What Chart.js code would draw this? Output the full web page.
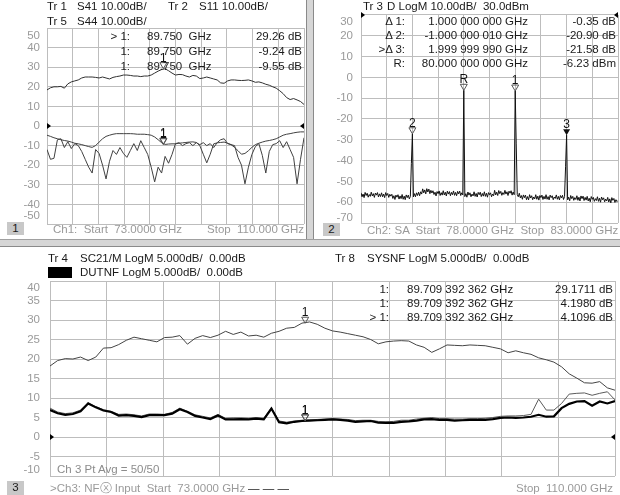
<!DOCTYPE html>
<html>
<head>
<meta charset="utf-8">
<script src="https://cdn.jsdelivr.net/npm/chart.js@4.4.1/dist/chart.umd.min.js"></script>
<style>
body { margin: 0; width: 620px; height: 495px; position: relative; overflow: hidden; background: #fff;
       font-family: "Liberation Sans", Arial, sans-serif; font-size: 11.5px; color: #1a1a1a; }
canvas { position: absolute; }
.t { position: absolute; white-space: pre; line-height: 14px; }
.g { color: #9a9a9a; }
.box { position: absolute; background: #c8c8c8; text-align: center; line-height: 13px; width: 17px; height: 13px; }
.vsep { position: absolute; left: 306px; top: 0; width: 6px; height: 239px; background: #d6d6d6;
        border-left: 1px solid #8a8a8a; border-right: 1px solid #8a8a8a; }
.hsep { position: absolute; left: 0; top: 239px; width: 620px; height: 6px; background: #d6d6d6;
        border-top: 1px solid #a0a0a0; border-bottom: 1px solid #8a8a8a; }
</style>
</head>
<body>
<canvas id="ch1" width="306" height="240" style="left:0;top:0"></canvas>
<canvas id="ch2" width="306" height="240" style="left:314px;top:0"></canvas>
<canvas id="ch3" width="620" height="247" style="left:0;top:248px"></canvas>
<div class="vsep"></div>
<div class="hsep"></div>

<!-- channel 1 texts -->
<div class="t" style="left:47px;top:-1px">Tr 1</div>
<div class="t" style="left:77px;top:-1px">S41 10.00dB/</div>
<div class="t" style="left:168px;top:-1px">Tr 2</div>
<div class="t" style="left:199px;top:-1px">S11 10.00dB/</div>
<div class="t" style="left:47px;top:14px">Tr 5</div>
<div class="t" style="left:77px;top:14px">S44 10.00dB/</div>
<div class="t" style="right:490px;top:29px">&gt; 1:</div>
<div class="t" style="left:147px;top:29px">89.750  GHz</div>
<div class="t" style="right:318px;top:29px">29.26 dB</div>
<div class="t" style="right:490px;top:44px">1:</div>
<div class="t" style="left:147px;top:44px">89.750  GHz</div>
<div class="t" style="right:318px;top:44px">-9.24 dB</div>
<div class="t" style="right:490px;top:59px">1:</div>
<div class="t" style="left:147px;top:59px">89.750  GHz</div>
<div class="t" style="right:318px;top:59px">-9.55 dB</div>
<div class="box" style="left:7px;top:222px">1</div>
<div class="t g" style="left:53px;top:222px">Ch1:  Start  73.0000 GHz</div>
<div class="t g" style="right:316px;top:222px">Stop  110.000 GHz</div>

<!-- channel 2 texts -->
<div class="t" style="left:363px;top:-1px">Tr 3</div>
<div class="t" style="left:387px;top:-1px">D LogM 10.00dB/  30.0dBm</div>
<div class="t" style="right:215px;top:14px">Δ 1:</div>
<div class="t" style="right:92px;top:14px">1.000 000 000 GHz</div>
<div class="t" style="right:4px;top:14px">-0.35 dB</div>
<div class="t" style="right:215px;top:28px">Δ 2:</div>
<div class="t" style="right:92px;top:28px">-1.000 000 010 GHz</div>
<div class="t" style="right:4px;top:28px">-20.90 dB</div>
<div class="t" style="right:215px;top:42px">&gt;Δ 3:</div>
<div class="t" style="right:92px;top:42px">1.999 999 990 GHz</div>
<div class="t" style="right:4px;top:42px">-21.58 dB</div>
<div class="t" style="right:215px;top:56px">R:</div>
<div class="t" style="right:92px;top:56px">80.000 000 000 GHz</div>
<div class="t" style="right:4px;top:56px">-6.23 dBm</div>
<div class="box" style="left:323px;top:223px">2</div>
<div class="t g" style="left:367px;top:223px">Ch2: SA  Start  78.0000 GHz  Stop  83.0000 GHz</div>

<!-- channel 3 texts -->
<div class="t" style="left:48px;top:251px">Tr 4</div>
<div class="t" style="left:80px;top:251px">SC21/M LogM 5.000dB/  0.00dB</div>
<div style="position:absolute;left:48px;top:267px;width:24px;height:11px;background:#000"></div>
<div class="t" style="left:80px;top:265px">DUTNF LogM 5.000dB/  0.00dB</div>
<div class="t" style="left:335px;top:251px">Tr 8</div>
<div class="t" style="left:367px;top:251px">SYSNF LogM 5.000dB/  0.00dB</div>
<div class="t" style="right:231px;top:282px">1:</div>
<div class="t" style="left:407px;top:282px">89.709 392 362 GHz</div>
<div class="t" style="right:7px;top:282px">29.1711 dB</div>
<div class="t" style="right:231px;top:296px">1:</div>
<div class="t" style="left:407px;top:296px">89.709 392 362 GHz</div>
<div class="t" style="right:7px;top:296px">4.1980 dB</div>
<div class="t" style="right:231px;top:310px">&gt; 1:</div>
<div class="t" style="left:407px;top:310px">89.709 392 362 GHz</div>
<div class="t" style="right:7px;top:310px">4.1096 dB</div>
<div class="t g" style="left:57px;top:462px;color:#8c8c8c">Ch 3 Pt Avg = 50/50</div>
<div class="box" style="left:7px;top:481px;height:14px">3</div>
<div class="t g" style="left:50px;top:481px">&gt;Ch3: NFⓧ Input  Start  73.0000 GHz</div>
<div class="t" style="left:248px;top:481px">— — —</div>
<div class="t g" style="right:7px;top:481px">Stop  110.000 GHz</div>

<script>
const gridColor = '#bdbdbd';
const tickColor = '#9a9a9a';
const tickFont = { family: 'Liberation Sans', size: 11.5 };

// Channel 1: S parameters, 73 - 110 GHz (dB)
const ch1Start = 73, ch1Stop = 110;
const s41 = [18.4, 19.5, 20.0, 20.0, 20.2, 19.3, 21.5, 22.5, 23.0, 23.5,
             24.5, 25.0, 25.0, 25.0, 24.8, 24.5, 25.0, 24.5, 24.0, 24.8,
             25.2, 25.5, 26.0, 26.0, 25.8, 25.5, 25.5, 25.2, 25.5, 25.5,
             26.0, 27.0, 28.0, 28.8, 29.2, 28.2, 27.0, 26.0, 26.3, 26.2,
             25.5, 25.0, 25.8, 25.5, 24.2, 24.5, 25.0, 24.5, 24.0, 23.5,
             22.0, 21.8, 23.0, 23.5, 23.5, 23.3, 23.2, 23.3, 23.5, 23.0,
             22.3, 22.5, 22.0, 21.3, 20.8, 20.0, 19.3, 18.0, 16.5, 14.5,
             13.5, 14.0, 13.3, 12.5, 11.0];
const s11 = [-4.7, -5.3, -6.0, -6.5, -7.0, -7.4, -7.7, -8.2, -8.8, -9.1,
             -9.5, -10.0, -10.5, -10.9, -10.0, -8.2, -6.5, -5.3, -4.7, -4.2,
             -3.9, -3.9, -3.9, -3.9, -3.9, -4.0, -4.2, -4.2, -4.2, -4.4,
             -4.7, -5.6, -7.0, -8.5, -9.4, -9.2, -9.1, -9.1, -8.8, -8.6,
             -8.4, -8.2, -8.1, -8.4, -10.0, -14.4, -18.8, -14.4, -9.1, -8.6,
             -8.4, -8.2, -8.8, -9.5, -10.9, -12.6, -14.4, -14.0, -12.6, -10.9,
             -9.5, -8.8, -8.2, -7.7, -7.4, -7.0, -6.5, -5.6, -4.7, -4.2,
             -3.9, -3.5, -3.2, -3.0, -3.0];
const s44 = [-12, -17, -16.5, -7, -6.5, -11, -8, -11.5, -9, -10,
             -13, -17, -21, -24, -12, -14, -20, -27, -18, -12.5,
             -14.5, -11, -14, -16, -12.5, -9, -12.5, -7.5, -11, -14.5,
             -21, -28.5, -21, -24, -15.5, -19, -14.5, -9, -8.5, -10,
             -9, -8.5, -10, -8.5, -9.5, -8.5, -10, -9, -11, -8.5,
             -7, -6.5, -9, -9.5, -10, -16, -20, -29.5, -21, -14.5,
             -10.5, -9, -15, -24, -13, -9.5, -9, -7.5, -11, -8,
             -12, -16, -29.5, -17, -6];
const ch1MarkerFreq = [89.75, 89.75, 89.75];
const ch1MarkerVal = [29.26, -9.24, -9.55];
const ch1MarkerLabel = ['1', '1', '1'];

// Channel 2: spectrum, 78 - 83 GHz (dBm)
const ch2Start = 78, ch2Stop = 83;
const spectrum = [-55.5, -57.4, -56.1, -57.8, -55.3, -56.8, -55.7, -57.6, -56.3, -57.2,
                  -55.2, -57.0, -55.9, -57.7, -55.6, -56.6, -55.4, -57.5, -56.0, -57.3,
                  -55.5, -57.4, -56.1, -57.8, -55.4, -56.8, -55.8, -57.7, -56.2, -57.1,
                  -56.2, -58.2, -56.9, -58.7, -56.6, -57.6, -56.4, -58.5, -57.0, -58.3,
                  -56.3, -58.6, -57.1, -58.8, -56.5, -57.8, -56.6, -58.4, -57.2, -41.5,
                  -27.13, -57.5, -55.9, -57.4, -55.5, -56.8, -55.2, -56.9, -55.0, -56.1,
                  -53.6, -55.5, -54.1, -56.0, -53.5, -55.1, -53.7, -55.9, -54.3, -55.6,
                  -54.5, -56.3, -55.2, -57.0, -54.9, -55.9, -54.6, -56.8, -55.4, -56.6,
                  -54.5, -56.5, -55.2, -57.0, -54.7, -56.1, -54.9, -56.9, -55.3, -56.4,
                  -54.6, -56.7, -55.3, -56.9, -54.8, -56.0, -54.7, -56.8, -55.5, -56.5,
                  -6.23, -57.3, -55.9, -57.6, -55.1, -56.6, -55.5, -57.4, -56.1, -57.0,
                  -55.0, -57.2, -55.8, -57.5, -55.3, -56.4, -55.2, -57.3, -55.8, -57.1,
                  -55.0, -57.2, -55.7, -57.6, -55.4, -56.4, -55.5, -57.4, -56.1, -56.9,
                  -54.3, -56.5, -55.2, -56.8, -54.4, -55.9, -54.8, -56.7, -55.4, -56.3,
                  -54.3, -56.1, -55.0, -56.8, -54.7, -55.7, -54.5, -56.6, -55.1, -56.4,
                  -6.58, -32.0, -56.4, -57.4, -55.7, -57.9, -56.8, -58.6, -56.5, -57.8,
                  -56.6, -58.8, -57.3, -58.9, -56.4, -58.0, -56.9, -58.8, -57.5, -58.4,
                  -56.4, -58.6, -57.1, -59.0, -56.8, -57.8, -56.6, -58.7, -57.2, -58.5,
                  -56.4, -58.6, -57.3, -58.9, -56.6, -57.8, -56.9, -58.8, -57.5, -58.2,
                  -56.5, -58.6, -57.2, -58.9, -56.8, -57.9, -56.7, -58.7, -57.3, -43.0,
                  -27.81, -58.9, -57.6, -59.3, -56.8, -58.3, -57.2, -59.1, -57.8, -58.7,
                  -56.9, -59.1, -57.6, -59.4, -57.0, -58.3, -57.1, -59.2, -57.7, -59.0,
                  -57.2, -59.4, -58.1, -59.8, -57.3, -58.6, -57.7, -59.6, -58.3, -59.2,
                  -57.4, -59.6, -58.1, -60.0, -57.5, -58.8, -57.9, -59.8, -58.5, -59.4,
                  -57.7, -59.9, -58.4, -60.3, -57.8, -59.1, -58.2, -60.1, -58.8, -59.7,
                  -59.2];
const ch2MarkerFreq = [79, 80, 81, 82];
const ch2MarkerVal = [-27.13, -6.23, -6.58, -27.81];
const ch2MarkerLabel = ['2', 'R', '1', '3'];

// Channel 3: gain and noise figure, 73 - 110 GHz (dB)
const ch3Start = 73, ch3Stop = 110;
const sc21 = [18.2, 19.6, 20.1, 20.0, 20.5, 19.6, 20.5, 22.8, 22.9, 23.7,
              24.8, 25.6, 25.2, 24.8, 24.4, 25.5, 25.6, 26.0, 23.8, 25.3,
              26.0, 25.5, 26.1, 27.1, 26.3, 26.9, 25.9, 26.1, 25.6, 26.6,
              27.1, 27.9, 28.1, 29.2, 29.5, 28.9, 27.9, 27.2, 26.9, 26.5,
              26.1, 25.7, 25.0, 23.9, 24.4, 24.6, 24.7, 24.6, 23.6, 23.0,
              21.7, 22.6, 23.6, 23.5, 23.4, 23.6, 23.5, 23.4, 23.0, 22.6,
              21.6, 22.1, 21.6, 21.2, 20.3, 19.8, 19.2, 18.0, 16.2, 15.1,
              13.9, 13.8, 14.2, 12.6, 12.0];
const dutnf = [6.9, 6.1, 5.7, 5.9, 6.6, 8.6, 7.6, 6.8, 6.4, 5.5,
               5.6, 5.4, 5.1, 5.6, 5.6, 5.6, 6.0, 7.1, 6.4, 5.4,
               5.0, 4.6, 5.5, 4.5, 4.5, 4.6, 4.5, 4.7, 4.5, 7.3,
               3.8, 3.5, 3.9, 4.1, 4.2, 4.3, 4.4, 4.5, 4.4, 4.2,
               3.9, 4.0, 4.1, 3.7, 3.6, 3.6, 3.9, 4.0, 4.2, 4.5,
               4.6, 4.4, 4.4, 4.2, 4.3, 4.4, 4.4, 4.4, 4.6, 4.9,
               5.0, 4.9, 5.0, 5.2, 5.7, 5.2, 5.3, 7.4, 8.5, 9.1,
               9.2, 8.0, 9.1, 8.6, 9.2];
const sysnf = [7.4, 6.4, 6.0, 6.2, 6.9, 8.7, 7.8, 7.0, 6.6, 5.8,
               5.9, 5.7, 5.4, 5.9, 5.9, 5.8, 6.3, 7.4, 6.6, 5.7,
               5.3, 4.9, 5.8, 4.8, 4.9, 4.9, 4.8, 5.0, 4.8, 7.5,
               4.1, 3.8, 4.1, 4.3, 4.4, 4.5, 4.6, 4.7, 4.6, 4.5,
               4.2, 4.3, 4.3, 4.0, 3.9, 4.0, 4.3, 4.3, 4.6, 4.8,
               5.0, 4.7, 4.7, 4.6, 4.6, 4.7, 4.7, 4.8, 5.0, 5.3,
               5.4, 5.4, 5.5, 5.8, 9.7, 6.9, 6.9, 8.6, 11.0, 11.2,
               11.3, 10.7, 11.2, 11.6, 9.5];
const ch3MarkerFreq = [89.709392362, 89.709392362, 89.709392362];
const ch3MarkerVal = [29.1711, 4.1980, 4.1096];
const ch3MarkerLabel = ['1', '1', '1'];

// sweep points spread evenly between start and stop
function sweep(start, stop, values) {
  const step = (stop - start) / (values.length - 1);
  return values.map((v, i) => ({ x: start + i * step, y: v }));
}

// edge tick labels, reference arrows and marker triangles
const vnaPlugin = {
  id: 'vna',
  afterDraw(chart, args, o) {
    const ctx = chart.ctx;
    const x = chart.scales.x, y = chart.scales.y;
    ctx.save();
    const t = y.ticks;
    ctx.font = '11.5px "Liberation Sans"';
    ctx.fillStyle = tickColor;
    ctx.textAlign = 'right';
    ctx.textBaseline = 'middle';
    ctx.fillText(t[0].label, y.right - o.pad, y.getPixelForValue(t[0].value) - o.shiftBottom);
    ctx.fillText(t[t.length - 1].label, y.right - o.pad, y.getPixelForValue(t[t.length - 1].value) + o.shiftTop);

    const ry = y.getPixelForValue(o.ref);
    ctx.fillStyle = '#000';
    ctx.beginPath();
    ctx.moveTo(x.left, ry - 3); ctx.lineTo(x.left + 4, ry); ctx.lineTo(x.left, ry + 3);
    ctx.fill();
    ctx.beginPath();
    ctx.moveTo(x.right, ry - 3); ctx.lineTo(x.right - 4, ry); ctx.lineTo(x.right, ry + 3);
    ctx.fill();

    ctx.textAlign = 'center';
    ctx.textBaseline = 'alphabetic';
    ctx.font = '12px "Liberation Sans"';
    o.freq.forEach((f, i) => {
      const px = x.getPixelForValue(f), py = y.getPixelForValue(o.val[i]);
      ctx.beginPath();
      ctx.moveTo(px, py);
      ctx.lineTo(px - 3.5, py - 6);
      ctx.lineTo(px + 3.5, py - 6);
      ctx.closePath();
      if (o.active === i) {
        ctx.fillStyle = '#111';
        ctx.fill();
      } else {
        ctx.strokeStyle = '#555';
        ctx.lineWidth = 1;
        ctx.stroke();
      }
      ctx.fillStyle = '#111';
      ctx.fillText(o.label[i], px, py - 7);
    });
    ctx.restore();
  }
};
Chart.register(vnaPlugin);

function panelOptions(p) {
  return {
    responsive: false,
    animation: false,
    events: [],
    layout: { padding: p.padding },
    elements: { point: { radius: 0 }, line: { tension: 0 } },
    plugins: { legend: { display: false }, tooltip: { enabled: false }, vna: p.vna },
    scales: {
      x: {
        type: 'linear', min: p.xMin, max: p.xMax,
        ticks: { display: false },
        grid: { color: gridColor, drawTicks: false },
        border: { display: false },
        afterBuildTicks: s => {
          s.ticks = Array.from({ length: 11 }, (_, k) => ({ value: s.min + k * (s.max - s.min) / 10 }));
        },
        afterFit: s => { s.height = 0; }
      },
      y: {
        min: p.yMin, max: p.yMax,
        ticks: {
          stepSize: p.yStep, padding: p.vna.pad, font: tickFont,
          color: c => (c.index === 0 || c.index === 10) ? 'rgba(0,0,0,0)' : tickColor
        },
        grid: { color: gridColor, drawTicks: false },
        border: { display: false },
        afterFit: s => { s.width = p.yWidth; }
      }
    }
  };
}

new Chart(document.getElementById('ch1'), {
  type: 'line',
  data: {
    datasets: [
      { label: 'S41', data: sweep(ch1Start, ch1Stop, s41), borderColor: '#303030', borderWidth: 1 },
      { label: 'S11', data: sweep(ch1Start, ch1Stop, s11), borderColor: '#404040', borderWidth: 1 },
      { label: 'S44', data: sweep(ch1Start, ch1Stop, s44), borderColor: '#404040', borderWidth: 1 }
    ]
  },
  options: panelOptions({
    padding: { top: 28, right: 2, bottom: 16, left: 0 }, yWidth: 47,
    xMin: ch1Start, xMax: ch1Stop, yMin: -50, yMax: 50, yStep: 10,
    vna: { pad: 7, shiftTop: 8, shiftBottom: 8, ref: 0, active: -1,
           freq: ch1MarkerFreq, val: ch1MarkerVal, label: ch1MarkerLabel }
  })
});

new Chart(document.getElementById('ch2'), {
  type: 'line',
  data: {
    datasets: [
      { label: 'D', data: sweep(ch2Start, ch2Stop, spectrum), borderColor: '#111', borderWidth: 1 }
    ]
  },
  options: panelOptions({
    padding: { top: 13, right: 2, bottom: 17, left: 0 }, yWidth: 47,
    xMin: ch2Start, xMax: ch2Stop, yMin: -70, yMax: 30, yStep: 10,
    vna: { pad: 8, shiftTop: 7, shiftBottom: 5, ref: 30, active: 3,
           freq: ch2MarkerFreq, val: ch2MarkerVal, label: ch2MarkerLabel }
  })
});

new Chart(document.getElementById('ch3'), {
  type: 'line',
  data: {
    datasets: [
      { label: 'DUTNF', data: sweep(ch3Start, ch3Stop, dutnf), borderColor: '#000', borderWidth: 2.2 },
      { label: 'SYSNF', data: sweep(ch3Start, ch3Stop, sysnf), borderColor: '#5a5a5a', borderWidth: 1 },
      { label: 'SC21/M', data: sweep(ch3Start, ch3Stop, sc21), borderColor: '#444', borderWidth: 1 }
    ]
  },
  options: panelOptions({
    padding: { top: 33, right: 5, bottom: 19, left: 0 }, yWidth: 50,
    xMin: ch3Start, xMax: ch3Stop, yMin: -10, yMax: 40, yStep: 5,
    vna: { pad: 10, shiftTop: 7, shiftBottom: 6, ref: 0, active: -1,
           freq: ch3MarkerFreq, val: ch3MarkerVal, label: ch3MarkerLabel }
  })
});
</script>
</body>
</html>
